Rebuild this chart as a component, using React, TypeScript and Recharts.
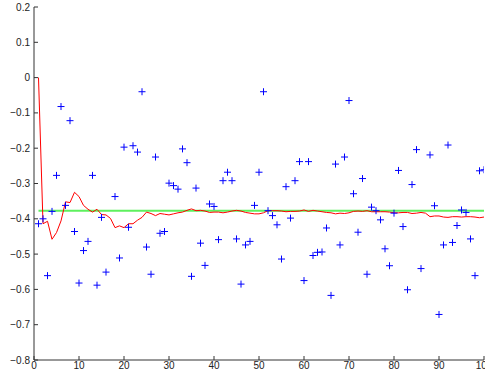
import { ComposedChart, Line, Scatter, XAxis, YAxis, ReferenceLine } from 'recharts';

// sample index 1..100
const samples = Array.from({ length: 100 }, (_, i) => i + 1);

// noisy observations (blue +), null where the point falls outside the axes
const observed: (number | null)[] = [
  -0.414, -0.4, -0.561, -0.379, -0.277, -0.082, -0.362, -0.122, -0.436, -0.582,
  -0.49, -0.464, -0.277, -0.588, -0.396, -0.551, null, -0.337, -0.511, -0.197,
  -0.424, -0.193, -0.211, -0.04, -0.48, -0.557, -0.225, -0.441, -0.436, -0.299,
  -0.306, -0.316, -0.202, -0.241, -0.563, -0.313, -0.469, -0.532, -0.358, -0.365,
  -0.459, -0.292, -0.268, -0.292, -0.457, -0.585, -0.474, -0.464, -0.362, -0.268,
  -0.04, -0.377, -0.391, -0.417, -0.514, -0.309, -0.398, -0.292, -0.238, -0.575,
  -0.238, -0.504, -0.495, -0.494, -0.426, -0.617, -0.245, -0.474, -0.225, -0.065,
  -0.329, -0.438, -0.286, -0.557, -0.367, -0.377, -0.403, -0.485, -0.533, -0.384,
  -0.263, -0.422, -0.601, -0.303, -0.204, -0.541, null, -0.219, -0.363, -0.671,
  -0.474, -0.191, -0.467, -0.419, -0.375, -0.382, -0.457, -0.561, -0.264, -0.261,
];

// running estimate (red line)
const estimate = [
  0, -0.414, -0.407, -0.458, -0.439, -0.406, -0.352, -0.354, -0.325, -0.337,
  -0.362, -0.373, -0.381, -0.373, -0.388, -0.389, -0.399, -0.425, -0.42, -0.425,
  -0.414, -0.414, -0.404, -0.396, -0.381, -0.385, -0.391, -0.385, -0.387, -0.389,
  -0.386, -0.383, -0.381, -0.376, -0.372, -0.377, -0.376, -0.378, -0.382, -0.381,
  -0.381, -0.383, -0.381, -0.378, -0.376, -0.378, -0.382, -0.384, -0.386, -0.386,
  -0.383, -0.377, -0.377, -0.377, -0.378, -0.38, -0.379, -0.379, -0.378, -0.375,
  -0.379, -0.376, -0.378, -0.38, -0.382, -0.383, -0.386, -0.384, -0.385, -0.383,
  -0.379, -0.378, -0.379, -0.377, -0.38, -0.38, -0.38, -0.38, -0.381, -0.383,
  -0.383, -0.382, -0.382, -0.385, -0.384, -0.382, -0.384, -0.394, -0.392, -0.392,
  -0.395, -0.396, -0.394, -0.394, -0.395, -0.394, -0.394, -0.395, -0.397, -0.395,
];

const trueValue = -0.377;

const xTicks = [0, 10, 20, 30, 40, 50, 60, 70, 80, 90, 100];
const yTicks = [0.2, 0.1, 0, -0.1, -0.2, -0.3, -0.4, -0.5, -0.6, -0.7, -0.8];

const data = samples.map((x, i) => ({ x, est: estimate[i] }));
const points = samples
  .map((x, i) => ({ x, obs: observed[i] }))
  .filter((p) => p.obs !== null);

const font = 'Liberation Sans, Arial, Helvetica, sans-serif';
const tickStyle = { fontSize: 10, fill: '#222', fontFamily: font };

const fmtY = (v: number) => (v === 0 ? '0' : v.toFixed(1).replace('-', '\u2212'));

function Plus(props: any) {
  const { cx, cy } = props;
  if (cx == null || cy == null) return null;
  return (
    <path
      d={`M${cx - 3.5},${cy}H${cx + 3.5}M${cx},${cy - 3.5}V${cy + 3.5}`}
      stroke="#0000ff"
      strokeWidth={1}
      fill="none"
    />
  );
}

export default function App() {
  return (
    <div style={{ position: 'absolute', left: 0, top: 0, width: 485, height: 376, overflow: 'hidden', background: '#fff' }}>
      <ComposedChart width={500} height={376} data={data} margin={{ top: 7, right: 16, bottom: 0, left: 0 }}>
        <XAxis
          dataKey="x"
          type="number"
          domain={[0, 100]}
          ticks={xTicks}
          interval={0}
          height={16}
          tickSize={-4}
          tickMargin={6}
          tick={tickStyle}
          stroke="#333"
          allowDataOverflow
        />
        <YAxis
          type="number"
          domain={[-0.8, 0.2]}
          ticks={yTicks}
          interval={0}
          width={34}
          tickSize={-4}
          tickMargin={8}
          tick={tickStyle}
          tickFormatter={fmtY}
          stroke="#333"
          allowDataOverflow
        />
        <Scatter data={points} dataKey="obs" shape={<Plus />} isAnimationActive={false} />
        <ReferenceLine
          segment={[{ x: 1, y: trueValue }, { x: 100, y: trueValue }]}
          stroke="#5ef05e"
          strokeWidth={2}
          ifOverflow="visible"
        />
        <Line
          dataKey="est"
          type="linear"
          stroke="#ff0000"
          strokeWidth={1}
          dot={false}
          isAnimationActive={false}
        />
      </ComposedChart>
    </div>
  );
}
